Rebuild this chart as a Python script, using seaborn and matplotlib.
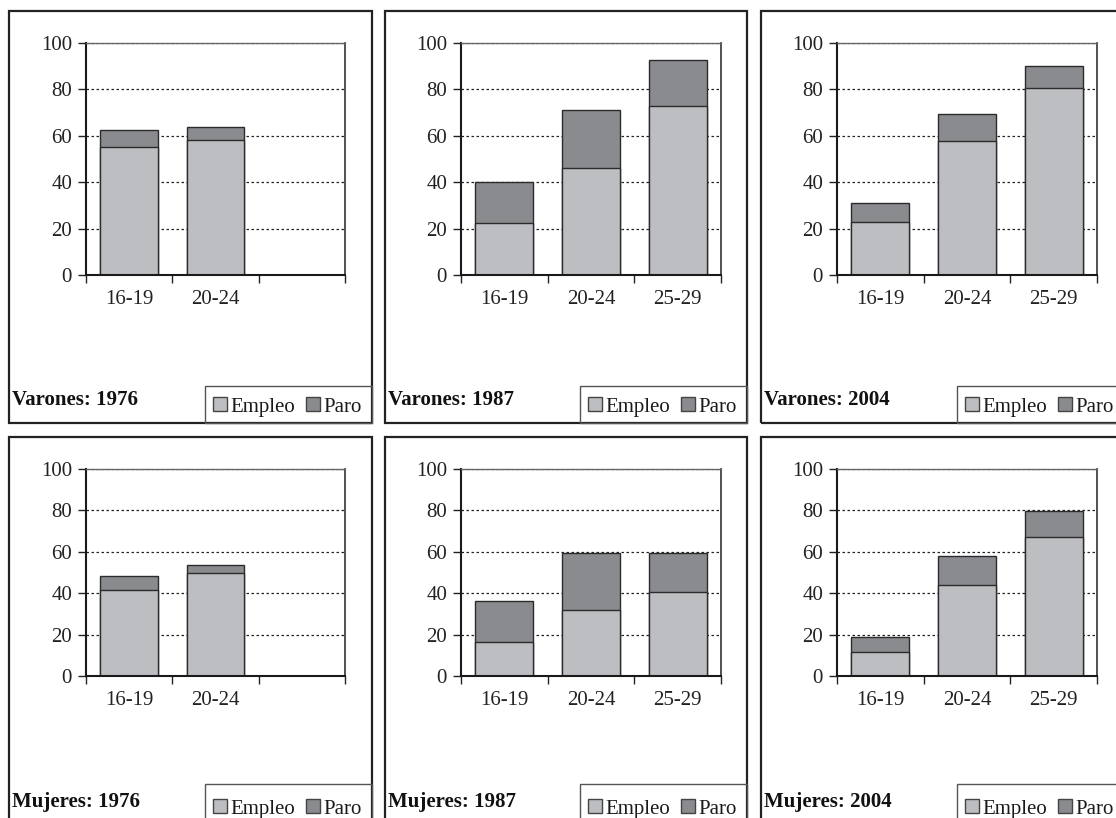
import numpy as np
import pandas as pd
import matplotlib
matplotlib.use('Agg')
import matplotlib.pyplot as plt
from matplotlib.patches import Rectangle, Patch
import seaborn as sns

# grupos de edad
grupos = ['16-19', '20-24', '25-29']

# tasas (%): empleo y paro (apilados)
var76_empleo = [55.2, 58.4]
var76_paro = [7.5, 5.4]
var87_empleo = [22.2, 46.3, 73.0]
var87_paro = [18.0, 25.0, 19.7]
var04_empleo = [23.0, 57.8, 80.6]
var04_paro = [8.0, 11.4, 9.5]
muj76_empleo = [41.5, 49.9]
muj76_paro = [7.0, 3.9]
muj87_empleo = [16.6, 31.7, 40.7]
muj87_paro = [19.6, 27.8, 18.8]
muj04_empleo = [11.8, 44.0, 67.1]
muj04_paro = [6.9, 14.2, 12.8]

titulos = ['Varones: 1976', 'Varones: 1987', 'Varones: 2004',
           'Mujeres: 1976', 'Mujeres: 1987', 'Mujeres: 2004']
paneles = [(var76_empleo, var76_paro), (var87_empleo, var87_paro), (var04_empleo, var04_paro),
           (muj76_empleo, muj76_paro), (muj87_empleo, muj87_paro), (muj04_empleo, muj04_paro)]

C_EMPLEO = '#bdbec2'
C_PARO = '#8a8b8f'
EDGE = '#2b2b2b'

sns.set_style('white')
plt.rcParams['font.family'] = ['Liberation Serif', 'DejaVu Serif']
plt.rcParams['font.size'] = 15

W, H = 1116, 818
fig = plt.figure(figsize=(W / 100, H / 100), dpi=100)

def fx(x):
    return x / W

def fy(y):
    return 1 - y / H

# geometria en pixeles
panel_x = [(9, 372), (385, 747), (761, 1130)]
panel_y = [(11, 423), (437, 840)]
axes_x = [(86, 345), (461, 721), (837, 1097)]
axes_y = [(43, 275), (469, 676)]
leyenda_x = [205, 580, 957]
leyenda_top = [386, 784]
texto_y = [400, 802]

for i, (emp, paro) in enumerate(paneles):
    fila, col = divmod(i, 3)
    px0, px1 = panel_x[col]
    py0, py1 = panel_y[fila]
    fig.patches.append(Rectangle((fx(px0), fy(py1)), fx(px1 - px0), (py1 - py0) / H,
                                 transform=fig.transFigure, fill=False, ec='#222222', lw=1.6))
    # caja de la leyenda
    lx = leyenda_x[col]
    ly = leyenda_top[fila]
    fig.patches.append(Rectangle((fx(lx), fy(py1)), fx(px1 - lx), (py1 - ly) / H,
                                 transform=fig.transFigure, fill=False, ec='#555555', lw=1.0))

    ax0, ax1 = axes_x[col]
    ay0, ay1 = axes_y[fila]
    ax = fig.add_axes([fx(ax0), fy(ay1), fx(ax1 - ax0), (ay1 - ay0) / H])

    n = len(emp)
    df = pd.DataFrame({'grupo': grupos[:n], 'empleo': emp, 'paro': paro})
    df['total'] = df['empleo'] + df['paro']

    sns.barplot(data=df, x='grupo', y='total', order=grupos, color=C_PARO, saturation=1,
                width=0.67, edgecolor=EDGE, linewidth=1.0, ax=ax)
    sns.barplot(data=df, x='grupo', y='empleo', order=grupos, color=C_EMPLEO, saturation=1,
                width=0.67, edgecolor=EDGE, linewidth=1.0, ax=ax)

    ax.set_xlim(-0.5, 2.5)
    ax.set_ylim(0, 100)
    ax.set_xlabel('')
    ax.set_ylabel('')
    ax.set_yticks(range(0, 101, 20))
    ax.set_xticks([-0.5, 0.5, 1.5, 2.5])
    ax.set_xticklabels([])
    ax.set_xticks(range(n), minor=True)
    ax.set_xticklabels(grupos[:n], minor=True)
    ax.tick_params(axis='x', which='major', direction='out', length=6, width=1, color='#222222', bottom=True)
    ax.tick_params(axis='x', which='minor', length=0, pad=11, labelsize=15, colors='#222222')
    ax.tick_params(axis='y', direction='out', length=6, width=1, color='#222222', left=True,
                   pad=4, labelsize=15, labelcolor='#222222')
    ax.yaxis.grid(True, linestyle=(0, (2, 2)), color='#222222', lw=0.9)
    ax.xaxis.grid(False)
    ax.set_axisbelow(True)
    for s in ['left', 'bottom']:
        ax.spines[s].set_color('#1a1a1a')
        ax.spines[s].set_linewidth(1.5)
    ax.spines['top'].set_color('#666666')
    ax.spines['top'].set_linewidth(1.0)
    ax.spines['right'].set_color('#333333')
    ax.spines['right'].set_linewidth(1.2)

    fig.text(fx(px0 + 3), fy(texto_y[fila]), titulos[i], fontsize=15, fontweight='bold',
             ha='left', va='center', color='#111111')

    handles = [Patch(facecolor=C_EMPLEO, edgecolor='#444444', lw=1.0),
               Patch(facecolor=C_PARO, edgecolor='#444444', lw=1.0)]
    fig.legend(handles, ['Empleo', 'Paro'], loc='center left',
               bbox_to_anchor=(fx(lx - 2), fy(texto_y[fila] + 7)), ncol=2, frameon=False,
               borderpad=0, handlelength=0.65, handleheight=0.65, handletextpad=0.15,
               columnspacing=0.55, fontsize=15, labelcolor='#1a1a1a')

fig.savefig('out.png', dpi=100)
